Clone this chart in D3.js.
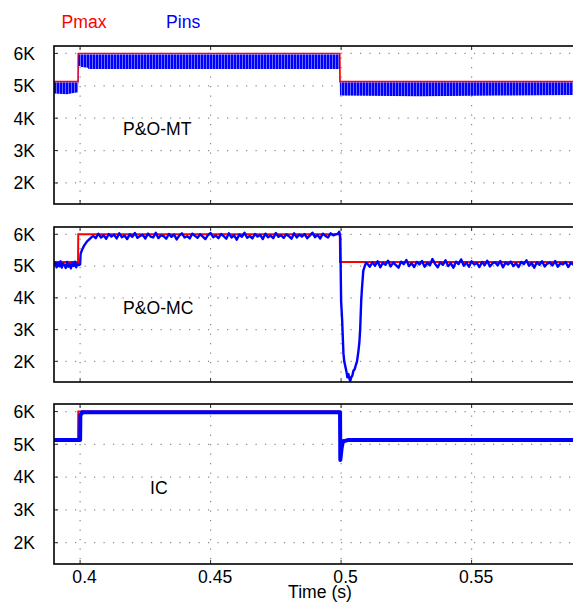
<!DOCTYPE html>
<html>
<head>
<meta charset="utf-8">
<script src="https://cdn.jsdelivr.net/npm/d3@7"></script>
<style>
body { margin: 0; background: #fff; }
text { font-family: "Liberation Sans", Arial, sans-serif; }
</style>
</head>
<body>
<div id="chart"></div>
<script>
// values in kW ("K" on the axis), time in s
const panelNames = ["P&O-MT", "P&O-MC", "IC"];
const yTicks = [2, 3, 4, 5, 6];
const xTicks = [0.4, 0.45, 0.5, 0.55];
const xTickLabels = ["0.4", "0.45", "0.5", "0.55"];

// Pmax reference (same in every panel)
const pmaxT = [0.39, 0.3992, 0.3993, 0.4995, 0.4996, 0.59];
const pmaxVal = [5.13, 5.13, 6.0, 6.0, 5.13, 5.13];

// P&O-MT: Pins oscillates fast, kept as its upper / lower envelope
const mtT  = [0.3900, 0.3950, 0.3975, 0.3992, 0.3994, 0.4003, 0.4005, 0.4030, 0.4032, 0.4994, 0.4996, 0.5300, 0.5600, 0.5900];
const mtHi = [5.10, 5.10, 5.10, 5.10, 5.97, 5.97, 5.97, 5.97, 5.97, 5.97, 5.10, 5.10, 5.10, 5.10];
const mtLo = [4.76, 4.74, 4.78, 4.80, 5.62, 5.60, 5.58, 5.56, 5.52, 5.52, 4.70, 4.68, 4.70, 4.72];

// P&O-MC: Pins, before the step and through the transients
const mcStart = [
    [0.3900, 5.02], [0.3905, 5.12], [0.3910, 4.96], [0.3915, 5.10], [0.3920, 4.99],
    [0.3925, 5.15], [0.3930, 4.95], [0.3935, 5.08], [0.3940, 5.04], [0.3945, 4.94],
    [0.3950, 5.13], [0.3955, 4.98], [0.3960, 5.07], [0.3965, 4.93], [0.3970, 5.11],
    [0.3975, 5.00], [0.3980, 5.14], [0.3985, 4.96], [0.3990, 5.08], [0.3995, 5.03],
    [0.4000, 5.05], [0.4002, 5.38], [0.4006, 5.48], [0.4010, 5.55], [0.4015, 5.64],
    [0.4020, 5.70], [0.4026, 5.77], [0.4032, 5.82], [0.4040, 5.88], [0.4045, 5.92]
];
// plateau 0.405 .. 0.498 s, one sample per ms
const mcPlateauT0 = 0.405;
const mcPlateau = [
    5.95, 5.88, 6.02, 5.90, 5.97, 5.86, 6.01, 5.93, 5.99, 5.87,
    6.03, 5.91, 5.96, 5.85, 6.00, 5.92, 6.04, 5.89, 5.95, 5.98,
    5.87, 6.02, 5.93, 5.90, 6.05, 5.88, 5.97, 5.94, 5.86, 6.01,
    5.92, 5.99, 5.84, 5.96, 6.03, 5.90, 5.94, 5.87, 6.02, 5.95,
    5.89, 6.00, 5.93, 5.85, 5.98, 6.04, 5.91, 5.96, 5.88, 6.01,
    5.94, 5.86, 6.03, 5.90, 5.97, 5.83, 5.99, 5.92, 6.05, 5.89,
    5.95, 5.87, 6.01, 5.93, 5.98, 5.85, 6.02, 5.91, 5.96, 5.88,
    6.04, 5.92, 5.97, 5.89, 6.00, 5.94, 5.86, 6.03, 5.90, 5.99,
    5.93, 6.01, 5.88, 5.96, 6.05, 5.91, 5.98, 5.87, 6.02, 5.95,
    5.90, 6.03, 5.97, 6.00
];
const mcDip = [
    [0.4988, 6.02], [0.4993, 6.08], [0.4997, 5.90], [0.5000, 3.90], [0.5004, 3.30],
    [0.5007, 2.65], [0.5009, 2.25], [0.5012, 2.00], [0.5016, 1.85], [0.5020, 1.70],
    [0.5024, 1.50], [0.5028, 1.60], [0.5032, 1.45], [0.5035, 1.38], [0.5039, 1.50],
    [0.5043, 1.55], [0.5047, 1.70], [0.5052, 1.75], [0.5057, 1.90], [0.5061, 2.00],
    [0.5066, 2.30], [0.5070, 2.60], [0.5073, 3.00], [0.5077, 3.90], [0.5080, 4.30],
    [0.5085, 4.85], [0.5090, 4.98], [0.5095, 5.10]
];
// after the dip 0.510 .. 0.589 s, one sample per ms
const mcPostT0 = 0.510;
const mcPost = [
    5.08, 4.98, 5.12, 5.01, 5.15, 4.96, 5.10, 5.04, 5.17, 4.99,
    5.11, 5.03, 4.95, 5.14, 5.06, 5.19, 5.00, 5.09, 4.97, 5.13,
    5.05, 5.16, 4.98, 5.10, 5.02, 5.22, 5.07, 4.96, 5.12, 5.04,
    5.18, 5.00, 5.09, 4.95, 5.14, 5.06, 5.21, 5.01, 5.11, 4.98,
    5.15, 5.05, 5.10, 4.97, 5.13, 5.03, 5.17, 4.99, 5.08, 5.12,
    5.02, 5.16, 4.96, 5.11, 5.05, 5.14, 5.00, 5.09, 4.97, 5.13,
    5.06, 5.18, 5.01, 5.10, 4.95, 5.12, 5.04, 5.15, 4.99, 5.08,
    5.11, 5.02, 5.16, 4.98, 5.09, 5.05, 5.13, 4.97, 5.10, 5.04
];
const sampleStep = 0.001;

// IC: Pins
const icPins = [
    [0.3900, 5.13], [0.4000, 5.13], [0.4001, 5.90], [0.4006, 5.94], [0.4007, 5.98],
    [0.4996, 5.98], [0.4997, 4.52], [0.5002, 4.88], [0.5006, 5.06], [0.5012, 5.10],
    [0.5025, 5.13], [0.5900, 5.13]
];

const mcPins = mcStart
    .concat(mcPlateau.map((v, k) => [mcPlateauT0 + k * sampleStep, v]))
    .concat(mcDip)
    .concat(mcPost.map((v, k) => [mcPostT0 + k * sampleStep, v]));

const width = 573;
const height = 603;
const plotLeft = 54;
const plotRight = 576;
const panelTops = [46, 227, 404];
const panelBottoms = [204, 382, 564];
const labelPos = [[123, 89], [123, 87], [150, 90]];
const fontSize = 17.6;

const svg = d3.select("#chart")
    .append("svg")
    .attr("width", width)
    .attr("height", height);

const defs = svg.append("defs");
const pat = defs.append("pattern")
    .attr("id", "osc")
    .attr("patternUnits", "userSpaceOnUse")
    .attr("width", 3)
    .attr("height", 10);
pat.append("rect").attr("width", 3).attr("height", 10).attr("fill", "#0000ff");
pat.append("rect").attr("x", 2.3).attr("width", 0.7).attr("height", 10).attr("fill", "#9a9aff");

const x = d3.scaleLinear()
    .domain([0.39, 0.59])
    .range([plotLeft, plotRight]);

panelNames.forEach((name, i) => {
    const top = panelTops[i];
    const bottom = panelBottoms[i];
    const y = d3.scaleLinear()
        .domain([1.35, 6.23])
        .range([bottom, top]);

    defs.append("clipPath")
        .attr("id", "clip" + i)
        .append("rect")
        .attr("x", plotLeft)
        .attr("y", top)
        .attr("width", plotRight - plotLeft)
        .attr("height", bottom - top);

    const g = svg.append("g");

    // dotted grid
    g.selectAll(".hgrid")
        .data(yTicks)
        .enter().append("line")
        .attr("x1", plotLeft + 2)
        .attr("x2", plotRight)
        .attr("y1", d => y(d))
        .attr("y2", d => y(d))
        .attr("stroke", "#8a8a8a")
        .attr("stroke-width", 1.2)
        .attr("stroke-dasharray", "1.2,8.3");

    g.selectAll(".vgrid")
        .data(xTicks)
        .enter().append("line")
        .attr("x1", d => x(d))
        .attr("x2", d => x(d))
        .attr("y1", top + 2)
        .attr("y2", bottom)
        .attr("stroke", "#8a8a8a")
        .attr("stroke-width", 1.2)
        .attr("stroke-dasharray", "1.2,8.3");

    // inner ticks
    g.selectAll(".ytick")
        .data(yTicks)
        .enter().append("line")
        .attr("x1", plotLeft)
        .attr("x2", plotLeft + 4)
        .attr("y1", d => y(d))
        .attr("y2", d => y(d))
        .attr("stroke", "#333");

    g.selectAll(".xtick")
        .data(xTicks)
        .enter().append("path")
        .attr("d", d => `M${x(d)},${top}v4M${x(d)},${bottom}v-4`)
        .attr("stroke", "#333");

    const data = g.append("g").attr("clip-path", `url(#clip${i})`);

    const pmaxLine = d3.line()
        .x((d, k) => x(pmaxT[k]))
        .y(d => y(d));

    data.append("path")
        .datum(pmaxVal)
        .attr("d", pmaxLine)
        .attr("fill", "none")
        .attr("stroke", "#ff0000")
        .attr("stroke-width", i === 0 ? 1.6 : 2);

    if (i === 0) {
        const band = d3.area()
            .x((d, k) => x(mtT[k]))
            .y0((d, k) => y(mtLo[k]))
            .y1(d => y(d));
        data.append("path")
            .datum(mtHi)
            .attr("d", band)
            .attr("fill", "url(#osc)");
    } else {
        const pins = i === 1 ? mcPins : icPins;
        const line = d3.line()
            .x(d => x(d[0]))
            .y(d => y(d[1]));
        data.append("path")
            .datum(pins)
            .attr("d", line)
            .attr("fill", "none")
            .attr("stroke", "#0000ff")
            .attr("stroke-width", i === 1 ? 2.4 : 4)
            .attr("stroke-linejoin", "round");
    }

    // frame
    g.append("rect")
        .attr("x", plotLeft)
        .attr("y", top)
        .attr("width", plotRight - plotLeft)
        .attr("height", bottom - top)
        .attr("fill", "none")
        .attr("stroke", "#000")
        .attr("stroke-width", 1.6);

    // y labels
    g.selectAll(".ylab")
        .data(yTicks)
        .enter().append("text")
        .attr("x", 35)
        .attr("y", d => y(d))
        .attr("dy", "0.36em")
        .attr("text-anchor", "end")
        .attr("font-size", fontSize)
        .text(d => d + "K");

    g.append("text")
        .attr("x", labelPos[i][0])
        .attr("y", top + labelPos[i][1])
        .attr("font-size", fontSize)
        .text(name);

    if (i === panelNames.length - 1) {
        g.selectAll(".xlab")
            .data(xTicks)
            .enter().append("text")
            .attr("x", d => x(d) + 4.5)
            .attr("y", bottom + 18.5)
            .attr("text-anchor", "middle")
            .attr("font-size", fontSize)
            .text((d, k) => xTickLabels[k]);
    }
});

svg.append("text")
    .attr("x", 320)
    .attr("y", 597.5)
    .attr("text-anchor", "middle")
    .attr("font-size", fontSize)
    .text("Time (s)");

svg.append("text")
    .attr("x", 61.5)
    .attr("y", 28)
    .attr("fill", "#ff0000")
    .attr("font-size", fontSize)
    .text("Pmax");

svg.append("text")
    .attr("x", 166)
    .attr("y", 28)
    .attr("fill", "#0000ff")
    .attr("font-size", fontSize)
    .text("Pins");
</script>
</body>
</html>
